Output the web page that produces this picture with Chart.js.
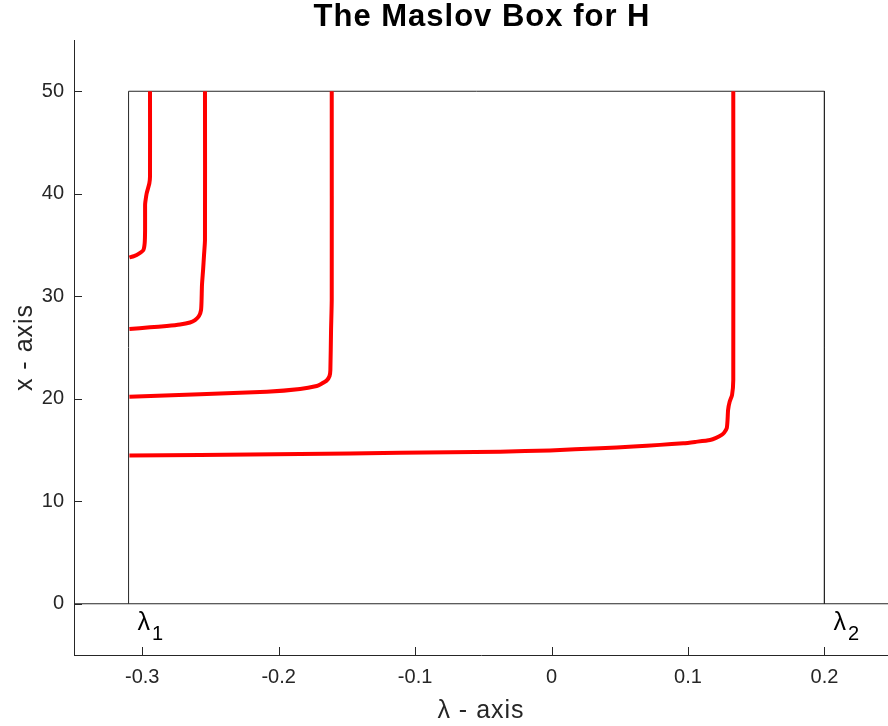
<!DOCTYPE html>
<html>
<head>
<meta charset="utf-8">
<script src="https://cdn.jsdelivr.net/npm/chart.js@4"></script>
<style>
  html, body { margin: 0; padding: 0; background: #ffffff; }
  #c { display: block; }
</style>
</head>
<body>
<canvas id="c" width="888" height="726" style="width:888px;height:726px"></canvas>
<script>
// ---------- data ----------
const TITLE = 'The Maslov Box for H';
const X_AXIS_TITLE = 'λ - axis';
const Y_AXIS_TITLE = 'x - axis';
const LAMBDA_TICKS = [-0.3, -0.2, -0.1, 0, 0.1, 0.2];
const X_TICKS = [0, 10, 20, 30, 40, 50];
const LAMBDA_RANGE = [-0.35, 0.2466];
const X_RANGE = [-5, 55];

// Maslov box edges
const BOX_LAMBDA = [-0.31, -0.31, 0.2, 0.2];
const BOX_X = [0, 50, 50, 0];
const ZERO_LAMBDA = [-0.35, 0.2466];
const ZERO_X = [0, 0];
const EIG_LAMBDA = [-0.31, 0.2];
const EIG_LABELS = ['1', '2'];

// red crossing curves (lambda, x)
const C1_LAMBDA = [-0.3094, -0.3060, -0.3024, -0.2992, -0.2982, -0.2979, -0.2979, -0.2977, -0.2967, -0.2948, -0.2943, -0.2943];
const C1_X      = [33.79, 33.92, 34.16, 34.50, 35.19, 36.45, 38.89, 39.21, 40.06, 41.00, 41.65, 50.0];

const C2_LAMBDA = [-0.3094, -0.2943, -0.2820, -0.2723, -0.2650, -0.2613, -0.2584, -0.2569, -0.2565, -0.2562, -0.2554, -0.2547, -0.2540, -0.2540];
const C2_X      = [26.80, 26.97, 27.10, 27.24, 27.44, 27.68, 28.07, 28.65, 29.63, 31.09, 32.55, 34.02, 35.48, 50.0];

const C3_LAMBDA = [-0.3094, -0.2576, -0.2087, -0.1843, -0.1721, -0.1689, -0.1648, -0.1627, -0.1621, -0.1616, -0.1611, -0.1611];
const C3_X      = [20.20, 20.44, 20.69, 20.96, 21.25, 21.44, 21.78, 22.22, 22.81, 26.71, 29.63, 50.0];

const C4_LAMBDA = [-0.3094, -0.2576, -0.1843, -0.1110, -0.0377, -0.0011, 0.0355, 0.0600, 0.0795, 0.0966, 0.1052, 0.1162, 0.1206, 0.1247, 0.1264, 0.1284, 0.1290, 0.1294, 0.1305, 0.1323, 0.1332, 0.1332];
const C4_X      = [14.47, 14.52, 14.62, 14.72, 14.84, 14.96, 15.18, 15.33, 15.50, 15.66, 15.79, 15.98, 16.18, 16.47, 16.67, 17.12, 17.93, 18.91, 19.69, 20.37, 21.83, 50.0];

// ---------- helpers ----------
const FONT = '"Liberation Sans", Arial, Helvetica, sans-serif';
const INK = '#262626';
const pts = (xs, ys) => xs.map((v, i) => ({ x: v, y: ys[i] }));

function curve(xs, ys) {
  return {
    data: pts(xs, ys), showLine: true, pointRadius: 0, borderColor: '#ff0000',
    borderWidth: 4, tension: 0.2, borderJoinStyle: 'round', borderCapStyle: 'butt',
    order: 0
  };
}
function thin(xs, ys) {
  return {
    data: pts(xs, ys), showLine: true, pointRadius: 0, borderColor: INK,
    borderWidth: 1, tension: 0, order: 5
  };
}

const decor = {
  id: 'decor',
  afterDraw(chart) {
    const ctx = chart.ctx;
    const xs = chart.scales.x, ys = chart.scales.y;
    const a = chart.chartArea;
    ctx.save();
    // inward tick marks
    ctx.strokeStyle = INK;
    ctx.lineWidth = 1;
    ctx.beginPath();
    LAMBDA_TICKS.forEach(v => {
      const p = Math.round(xs.getPixelForValue(v)) + 0.5;
      ctx.moveTo(p, a.bottom); ctx.lineTo(p, a.bottom - 8);
    });
    X_TICKS.forEach(v => {
      const p = Math.round(ys.getPixelForValue(v)) + 0.5;
      ctx.moveTo(a.left, p); ctx.lineTo(a.left + 8, p);
    });
    ctx.stroke();

    // title
    ctx.fillStyle = '#000000';
    ctx.font = 'bold 31px ' + FONT;
    ctx.textAlign = 'center';
    ctx.textBaseline = 'alphabetic';
    ctx.letterSpacing = '1px';
    ctx.fillText(TITLE, (a.left + a.right) / 2 + 1, 26);

    // axis titles
    ctx.fillStyle = INK;
    ctx.font = '25px ' + FONT;
    ctx.letterSpacing = '1px';
    ctx.fillText(X_AXIS_TITLE, (a.left + a.right) / 2, 718);
    ctx.save();
    ctx.translate(32, (a.top + a.bottom) / 2);
    ctx.rotate(-Math.PI / 2);
    ctx.fillText(Y_AXIS_TITLE, 0, 0);
    ctx.restore();
    ctx.letterSpacing = '0px';

    // eigenvalue labels
    ctx.fillStyle = '#000000';
    ctx.textAlign = 'left';
    EIG_LAMBDA.forEach((v, i) => {
      const px = xs.getPixelForValue(v) + 9;
      const py = ys.getPixelForValue(0) + 26;
      ctx.font = '25px ' + FONT;
      ctx.fillText('λ', px, py);
      const w = ctx.measureText('λ').width;
      ctx.font = '20px ' + FONT;
      ctx.fillText(EIG_LABELS[i], px + w + 2, py + 10);
    });
    ctx.restore();
  }
};

new Chart(document.getElementById('c'), {
  type: 'scatter',
  data: {
    datasets: [
      curve(C1_LAMBDA, C1_X),
      curve(C2_LAMBDA, C2_X),
      curve(C3_LAMBDA, C3_X),
      curve(C4_LAMBDA, C4_X),
      thin(BOX_LAMBDA, BOX_X),
      thin(ZERO_LAMBDA, ZERO_X)
    ]
  },
  options: {
    responsive: false,
    animation: false,
    devicePixelRatio: 1,
    layout: { padding: { top: 40, right: 0, left: 0, bottom: 0 } },
    plugins: { legend: { display: false }, tooltip: { enabled: false }, title: { display: false } },
    scales: {
      x: {
        type: 'linear', position: 'bottom',
        min: LAMBDA_RANGE[0], max: LAMBDA_RANGE[1],
        afterBuildTicks: s => { s.ticks = LAMBDA_TICKS.map(v => ({ value: v })); },
        afterFit: s => { s.height = 71; },
        grid: { display: false, drawTicks: false },
        border: { display: true, color: INK, width: 1 },
        ticks: {
          color: INK, padding: 10, maxRotation: 0, autoSkip: false,
          font: { family: FONT, size: 20 },
          callback: v => String(Number(Number(v).toFixed(2)))
        }
      },
      y: {
        type: 'linear', position: 'left',
        min: X_RANGE[0], max: X_RANGE[1],
        afterBuildTicks: s => { s.ticks = X_TICKS.map(v => ({ value: v })); },
        afterFit: s => { s.width = 74; },
        grid: { display: false, drawTicks: false },
        border: { display: true, color: INK, width: 1 },
        ticks: {
          color: INK, padding: 10, autoSkip: false,
          font: { family: FONT, size: 20 },
          callback: v => String(v)
        }
      }
    }
  },
  plugins: [decor]
});
</script>
</body>
</html>
